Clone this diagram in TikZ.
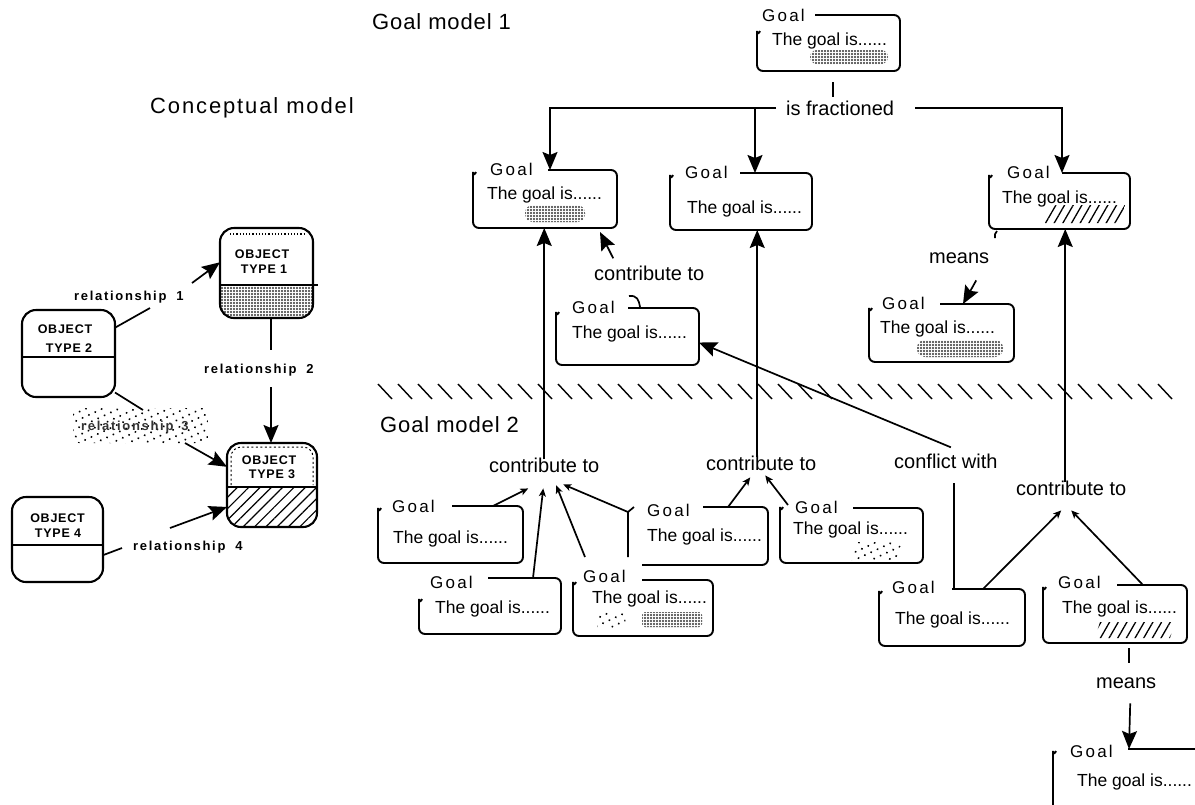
\documentclass[tikz,border=0pt]{standalone}
\usepackage{fontspec}
\setmainfont{Liberation Sans}
\newfontfamily\titlefont[LetterSpace=4]{Liberation Sans}
\newfontfamily\goalfont[LetterSpace=13]{Liberation Sans}
\newfontfamily\objfont[LetterSpace=6]{Liberation Sans}
\newfontfamily\relfont[LetterSpace=13]{Liberation Sans}
\usetikzlibrary{arrows.meta,patterns.meta,calc}

\tikzset{
  boxline/.style={line width=1.9pt, rounded corners=6pt},
  gbox/.style={draw=none, inner sep=0pt, outer sep=0pt, rectangle},
  objbox/.style={draw, line width=2.1pt, rounded corners=14pt, inner sep=0pt, outer sep=0pt, rectangle},
  lnk/.style={line width=1.7pt},
  bigarrow/.style={lnk, -{Stealth[length=18pt,width=15pt,inset=3pt]}},
  smallarrow/.style={lnk, -{Stealth[length=8pt,width=7pt,inset=2pt]}},
  title/.style={font=\titlefont\fontsize{22}{22}\selectfont, inner sep=0pt, anchor=base west},
  lab/.style={font=\fontsize{20}{20}\selectfont, inner sep=1pt, anchor=base west},
  goallab/.style={font=\goalfont\fontsize{17}{17}\selectfont, inner sep=0pt, anchor=base west},
  goaltxt/.style={font=\fontsize{17.5}{18}\selectfont, inner sep=0pt, anchor=base west},
  objtxt/.style={font=\objfont\bfseries\fontsize{12.5}{12.5}\selectfont, inner sep=0pt, anchor=base},
  reltxt/.style={font=\relfont\bfseries\fontsize{13}{13}\selectfont, inner sep=1pt, anchor=base west},
  stipple/.style={pattern={Dots[distance=3pt,radius=1.1pt]}, pattern color=black!80},
  sparse/.style={pattern={Dots[distance=7pt,radius=1.1pt,angle=25]}, pattern color=black},
  hatch/.style={pattern={Lines[angle=60,distance=7.5pt,line width=1.3pt]}, pattern color=black},
}

% goal box: name, left, top, right, bottom, x where the top edge starts,
% offset below the top where the left edge ends (empty: no left edge)
\newcommand{\goalbox}[7]{%
  \node[gbox, minimum width={#4-#2}, minimum height={#5-#3}] (#1) at ({(#2+#4)/2},{(#3+#5)/2}) {};
  \ifx\relax#7\relax
    \draw[boxline] (#6,#3) -- (#4,#3) -- (#4,#5) -- (#2,#5);
  \else
    \draw[boxline] (#6,#3) -- (#4,#3) -- (#4,#5) -- (#2,#5) -- (#2,#3+#7)
      to[out=90,in=-110] (#2+3,#3+#7-6);
  \fi
}

\begin{document}
\begin{tikzpicture}[x=1pt,y=-1pt]
\useasboundingbox (0,0) rectangle (1195,804);
\fill[white] (0,0) rectangle (1195,804);
\clip (0,0) rectangle (1195,804);

% headings
\node[title] (h1) at (372,29) {Goal model 1};
\node[title] (h2) at (150,113) {\addfontfeature{LetterSpace=8.5}Conceptual model};
\node[title] (h3) at (380,432) {Goal model 2};

% ================= conceptual model =================
\begin{scope}
  \clip[rounded corners=14pt] (220,228) rectangle (313,318);
  \fill[stipple] (220,285) rectangle (313,318);
\end{scope}
\begin{scope}
  \clip[rounded corners=14pt] (227,443) rectangle (317,527);
  \fill[pattern={Lines[angle=45,distance=8pt,line width=1.2pt]}] (227,487) rectangle (317,527);
\end{scope}

\node[objbox, minimum width=93pt, minimum height=90pt] (ot1) at (266.5,273) {};
\node[objbox, minimum width=93pt, minimum height=87pt] (ot2) at (68.5,353.5) {};
\node[objbox, minimum width=90pt, minimum height=84pt] (ot3) at (272,485) {};
\node[objbox, minimum width=91pt, minimum height=85pt] (ot4) at (57.5,539.5) {};

% dividers and edge textures
\draw[lnk] (ot1.west |- 0,285) -- (318,285);
\draw[lnk] (ot2.west |- 0,357) -- (ot2.east |- 0,357);
\draw[lnk] (ot3.west |- 0,487) -- (ot3.east |- 0,487);
\draw[lnk] (ot4.west |- 0,545) -- (ot4.east |- 0,545);
\draw[line width=1.2pt, dotted] (230,234) -- (304,234);
\draw[line width=1pt, dash pattern=on 2pt off 2.5pt, rounded corners=10pt]
  (231,485) -- (231,447) -- (313,447) -- (313,485);

\node[objtxt] (ot1a) at (262,258) {OBJECT};
\node[objtxt] (ot1b) at (264,273) {TYPE 1};
\node[objtxt] (ot2a) at (65,333) {OBJECT};
\node[objtxt] (ot2b) at (69,352) {TYPE 2};
\node[objtxt] (ot3a) at (269,464) {OBJECT};
\node[objtxt] (ot3b) at (272,478) {TYPE 3};
\node[objtxt] (ot4a) at (57.5,522) {OBJECT};
\node[objtxt] (ot4b) at (58,537) {TYPE 4};

% relationships
\fill[sparse, rounded corners=6pt] (73,408) rectangle (208,443);
\node[reltxt] (rel1) at (73,300) {relationship\hspace{10pt}1};
\node[reltxt] (rel2) at (203,373) {relationship\hspace{10pt}2};
\node[reltxt, text=black!80] (rel3) at (80,430) {relationship\hspace{8pt}3};
\node[reltxt] (rel4) at (132,550) {relationship\hspace{10pt}4};

\coordinate (r1a) at (150,308);
\coordinate (r1b) at (192,283);
\draw[lnk] (ot2.29) -- (r1a);
\draw[bigarrow] (r1b) -- (ot1.167);

\coordinate (r2a) at (271,350);
\coordinate (r2b) at (271,387);
\draw[lnk] (ot1.south -| r2a) -- (r2a);
\draw[bigarrow] (r2b) -- (r2b |- ot3.north);

\coordinate (r3a) at (143,410);
\coordinate (r3b) at (185,443);
\draw[lnk] (ot2.-40) -- (r3a);
\draw[bigarrow] (r3b) -- (ot3.158);

\coordinate (r4a) at (122,548);
\coordinate (r4b) at (170,528);
\draw[lnk] (ot4.-19) -- (r4a);
\draw[bigarrow] (r4b) -- (ot3.206);

% ================= goal model 1 =================
\goalbox{g0}{757}{15}{900}{71}{815}{22}
\goalbox{g1}{473}{170}{617}{228}{548}{8}
\goalbox{g2}{670}{173}{812}{230}{740}{8}
\goalbox{g3}{989}{173}{1130}{229}{1062}{8}
\goalbox{g4}{869}{304}{1014}{362}{940}{10}
\goalbox{g5}{556}{308}{699}{365}{628}{10}

\node[goallab] (g0l) at (762,21) {Goal};
\node[goaltxt] (g0t) at (772,45) {The goal is......};
\node[goallab] (g1l) at (490,175) {Goal};
\node[goaltxt] (g1t) at (487,199) {The goal is......};
\node[goallab] (g2l) at (685,178) {Goal};
\node[goaltxt] (g2t) at (687,213) {The goal is......};
\node[goallab] (g3l) at (1007,178) {Goal};
\node[goaltxt] (g3t) at (1002,203) {The goal is......};
\node[goallab] (g4l) at (882,309) {Goal};
\node[goaltxt] (g4t) at (880,333) {The goal is......};
\node[goallab] (g5l) at (572,313) {Goal};
\node[goaltxt] (g5t) at (572,338) {The goal is......};

\fill[stipple, rounded corners=7pt] (810,50) rectangle (888,64);
\fill[stipple, rounded corners=8pt] (525,205) rectangle (585,222);
\fill[stipple, rounded corners=8pt] (917,340) rectangle (1003,357);
\fill[hatch] (1052,205) -- (1125,205) -- (1120,223) -- (1045,223) -- cycle;

% is fractioned
\node[lab] (frac) at (785,115) {is fractioned};
\draw[lnk] ([shift={(76,11)}]g0.south west) -- ([shift={(76,26)}]g0.south west);
\coordinate (fl) at (frac.west -| 550,0);
\coordinate (fm) at (frac.west -| 755,0);
\coordinate (fr) at (frac.east -| 1062,0);
\draw[bigarrow] ([xshift=-9pt]frac.west) -- (fl) -- (fl |- g1.north);
\draw[bigarrow] (fm) -- (fm |- g2.north);
\draw[bigarrow] ([xshift=20pt]frac.east) -- (fr) -- (fr |- g3.north);

% contribute to (g5 -> g1)
\node[lab] (ct0) at (593,280) {contribute to};
\draw[lnk] ([shift={(73,-12)}]g5.north west) .. controls ([shift={(81,-13)}]g5.north west)
  and ([shift={(83,-8)}]g5.north west) .. ([shift={(84,-1)}]g5.north west);
\draw[bigarrow] ([shift={(-36,-6)}]ct0.north) -- ([shift={(-17,4)}]g1.south east);

% means (g3 -> g4)
\node[lab] (mn1) at (928,263) {means};
\draw[lnk] ([shift={(8,2)}]g3.south west) to[bend right=30] ([shift={(6,9)}]g3.south west);
\draw[bigarrow] ([shift={(17,16)}]mn1.south) -- ([xshift=94pt]g4.north west);

% boundary between the two goal models
\foreach \i in {0,...,39}
  \draw[line width=1.4pt] ({378+20*\i},384) -- ({392+20*\i},399);

% ================= goal model 2 =================
\goalbox{g6}{378}{506}{523}{563}{452}{8}
\goalbox{g7}{419}{578}{561}{634}{488}{27}
\goalbox{g8}{573}{580}{713}{636}{642}{8}
\goalbox{g9}{642}{507}{768}{565}{703}{}
\goalbox{g10}{780}{508}{923}{563}{853}{5}
\goalbox{g11}{879}{589}{1025}{646}{952}{8}
\goalbox{g12}{1043}{585}{1187}{643}{1117}{8}
\goalbox{g13}{1053}{749}{1230}{830}{1128}{8}

\node[goallab] (g6l) at (392,512) {Goal};
\node[goaltxt] (g6t) at (393,543) {The goal is......};
\node[goallab] (g7l) at (430,588) {Goal};
\node[goaltxt] (g7t) at (435,613) {The goal is......};
\node[goallab] (g8l) at (583,582) {Goal};
\node[goaltxt] (g8t) at (592,603) {The goal is......};
\node[goallab] (g9l) at (647,516) {Goal};
\node[goaltxt] (g9t) at (647,541) {The goal is......};
\node[goallab] (g10l) at (795,513) {Goal};
\node[goaltxt] (g10t) at (793,534) {The goal is......};
\node[goallab] (g11l) at (892,593) {Goal};
\node[goaltxt] (g11t) at (895,624) {The goal is......};
\node[goallab] (g12l) at (1058,588) {Goal};
\node[goaltxt] (g12t) at (1062,613) {The goal is......};
\node[goallab] (g13l) at (1070,757) {Goal};
\node[goaltxt] (g13t) at (1077,786) {The goal is......};

\fill[sparse] (600,612) -- (627,612) -- (624,628) -- (597,628) -- cycle;
\fill[stipple, rounded corners=3pt] (642,612) rectangle (702,627);
\fill[sparse] (855,542) -- (902,542) -- (897,560) -- (850,560) -- cycle;
\fill[hatch] (1100,622) -- (1175,622) -- (1170,638) -- (1095,638) -- cycle;

% upward links from goal model 2 to goal model 1
\node[lab] (ct1) at (488,472) {contribute to};
\node[lab] (ct2) at (705,470) {contribute to};
\node[lab] (ct3) at (1015,495) {contribute to};
\node[lab] (cfl) at (893,468) {conflict with};

\coordinate (c1top) at ([yshift=-3pt]ct1.north);
\coordinate (c2top) at ([xshift=-4pt,yshift=-3pt]ct2.north);
\coordinate (c3top) at ([xshift=-6pt,yshift=-3pt]ct3.north);
\draw[bigarrow] (c1top) -- (c1top |- g1.south);
\draw[bigarrow] (c2top) -- (c2top |- g2.south);
\draw[bigarrow] (c3top) -- (c3top |- g3.south);

\coordinate (cfb) at ([xshift=8pt,yshift=-14pt]cfl.south);
\coordinate (cfa) at ([xshift=5pt,yshift=5pt]cfl.north);
\draw[lnk] (cfb) -- (cfb |- g11.north);
\draw[bigarrow] (cfa) -- ([yshift=-6pt]g5.east);

% contributions inside goal model 2
\draw[smallarrow] ([xshift=115pt]g6.north west) -- ([shift={(-16,15)}]ct1.south);
\draw[smallarrow] ([xshift=114pt]g7.north west) -- ([shift={(-1,15)}]ct1.south);
\draw[smallarrow] ([shift={(12,-23)}]g8.north west) -- ([shift={(12,12)}]ct1.south);
\draw[smallarrow] ([shift={(-14,50)}]g9.north west) -- ([shift={(-14,5)}]g9.north west)
  -- ([shift={(19,11)}]ct1.south);
\draw[lnk] ([shift={(-14,5)}]g9.north west) -- ([shift={(-8,0)}]g9.north west);

\draw[smallarrow] ([xshift=86pt]g9.north west) -- ([shift={(-11,6)}]ct2.south);
\draw[smallarrow] ([shift={(8,-3)}]g10.north west) -- ([shift={(4,4)}]ct2.south);

\draw[smallarrow] ([xshift=104pt]g11.north west) -- ([shift={(-10,14)}]ct3.south);
\draw[smallarrow] ([xshift=100pt]g12.north west) -- ([shift={(0,14)}]ct3.south);

% means (g12 -> g13)
\node[lab] (mn2) at (1095,688) {means};
\draw[lnk] ([shift={(86,5)}]g12.south west) -- ([shift={(86,20)}]g12.south west);
\draw[bigarrow] ([shift={(4,14)}]mn2.south) -- ([xshift=76pt]g13.north west);
\end{tikzpicture}
\end{document}
